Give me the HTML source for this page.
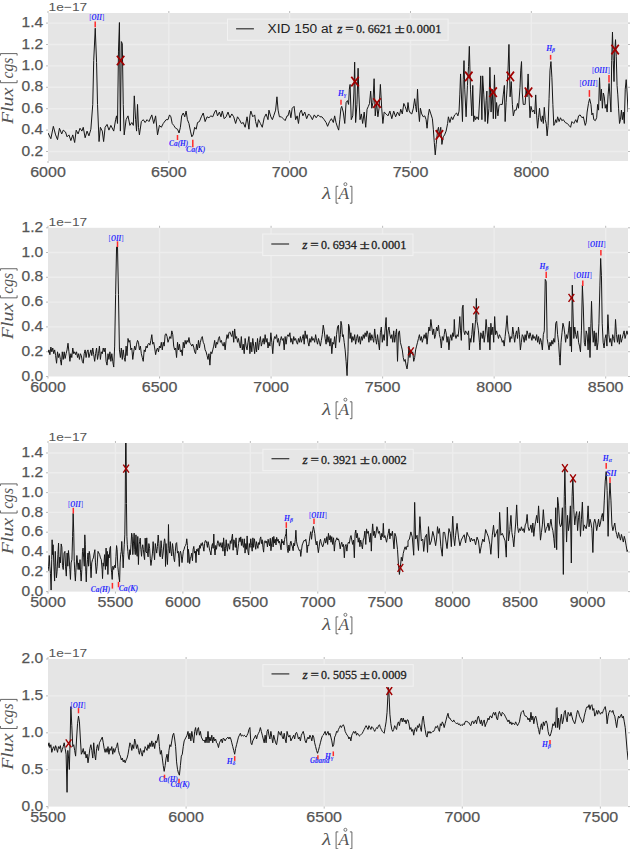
<!DOCTYPE html><html><head><meta charset="utf-8"><title>spectra</title><style>html,body{margin:0;padding:0;background:#fff;}svg{display:block}text{font-family:"Liberation Sans",sans-serif;}.s{font-family:"Liberation Serif",serif;}</style></head><body>
<svg width="630" height="849" viewBox="0 0 630 849">
<rect x="0" y="0" width="630" height="849" fill="#ffffff"/>
<clipPath id="c0"><rect x="48.0" y="13" width="580.0" height="148"/></clipPath>
<rect x="48.0" y="13" width="580.0" height="148" fill="#e5e5e5"/>
<path d="M48.0 151.5H628.0M48.0 130.1H628.0M48.0 108.7H628.0M48.0 87.3H628.0M48.0 65.9H628.0M48.0 44.5H628.0M48.0 23.1H628.0M168.83 13V161M289.67 13V161M410.5 13V161M531.33 13V161" stroke="#ededed" stroke-width="1.4" fill="none"/>
<path d="M46.0 151.5h2M628.0 151.5h2M46.0 130.1h2M628.0 130.1h2M46.0 108.7h2M628.0 108.7h2M46.0 87.3h2M628.0 87.3h2M46.0 65.9h2M628.0 65.9h2M46.0 44.5h2M628.0 44.5h2M46.0 23.1h2M628.0 23.1h2M48 161v2M48 13v-2M168.83 161v2M168.83 13v-2M289.67 161v2M289.67 13v-2M410.5 161v2M410.5 13v-2M531.33 161v2M531.33 13v-2" stroke="#aaaaaa" stroke-width="0.8" fill="none"/>
<text x="21.6" y="155.6" font-size="15.3" fill="#555555" stroke="#555555" stroke-width="0.25" textLength="21.6" lengthAdjust="spacingAndGlyphs">0.2</text>
<text x="21.6" y="134.2" font-size="15.3" fill="#555555" stroke="#555555" stroke-width="0.25" textLength="21.6" lengthAdjust="spacingAndGlyphs">0.4</text>
<text x="21.6" y="112.8" font-size="15.3" fill="#555555" stroke="#555555" stroke-width="0.25" textLength="21.6" lengthAdjust="spacingAndGlyphs">0.6</text>
<text x="21.6" y="91.4" font-size="15.3" fill="#555555" stroke="#555555" stroke-width="0.25" textLength="21.6" lengthAdjust="spacingAndGlyphs">0.8</text>
<text x="21.6" y="70" font-size="15.3" fill="#555555" stroke="#555555" stroke-width="0.25" textLength="21.6" lengthAdjust="spacingAndGlyphs">1.0</text>
<text x="21.6" y="48.6" font-size="15.3" fill="#555555" stroke="#555555" stroke-width="0.25" textLength="21.6" lengthAdjust="spacingAndGlyphs">1.2</text>
<text x="21.6" y="27.2" font-size="15.3" fill="#555555" stroke="#555555" stroke-width="0.25" textLength="21.6" lengthAdjust="spacingAndGlyphs">1.4</text>
<text x="30.2" y="176.6" font-size="15.3" fill="#555555" stroke="#555555" stroke-width="0.25" textLength="35.6" lengthAdjust="spacingAndGlyphs">6000</text>
<text x="151.03" y="176.6" font-size="15.3" fill="#555555" stroke="#555555" stroke-width="0.25" textLength="35.6" lengthAdjust="spacingAndGlyphs">6500</text>
<text x="271.87" y="176.6" font-size="15.3" fill="#555555" stroke="#555555" stroke-width="0.25" textLength="35.6" lengthAdjust="spacingAndGlyphs">7000</text>
<text x="392.7" y="176.6" font-size="15.3" fill="#555555" stroke="#555555" stroke-width="0.25" textLength="35.6" lengthAdjust="spacingAndGlyphs">7500</text>
<text x="513.53" y="176.6" font-size="15.3" fill="#555555" stroke="#555555" stroke-width="0.25" textLength="35.6" lengthAdjust="spacingAndGlyphs">8000</text>
<text x="48.6" y="11.1" font-size="11.8" fill="#555555" textLength="38.6" lengthAdjust="spacingAndGlyphs">1e−17</text>
<g transform="translate(13.2 124) rotate(-90)" fill="#555555"><text class="s" x="0" y="0" font-size="17" font-style="italic" textLength="36.2" lengthAdjust="spacingAndGlyphs">Flux</text><text class="s" x="45.5" y="0" font-size="17" font-style="italic" textLength="20.8" lengthAdjust="spacingAndGlyphs">cgs</text><path d="M43.8 -12.8H41.3V3.9H43.8M68.4 -12.8H70.4V3.9H68.4" fill="none" stroke="#555555" stroke-width="0.9"/></g>
<g fill="#555555"><text class="s" x="322.0" y="199.2" font-size="17" font-style="italic" textLength="9.2" lengthAdjust="spacingAndGlyphs">λ</text><text class="s" x="338.4" y="199.2" font-size="16" font-style="italic" textLength="10.6" lengthAdjust="spacingAndGlyphs">A</text><circle cx="345.4" cy="184.2" r="1.5" fill="none" stroke="#555555" stroke-width="0.8"/><path d="M338.3 186.3H336.1V203.2H338.3M349.9 186.3H351.9V203.2H349.9" fill="none" stroke="#555555" stroke-width="0.9"/></g>
<clipPath id="c1"><rect x="48.0" y="227.8" width="580.0" height="148.7"/></clipPath>
<rect x="48.0" y="227.8" width="580.0" height="148.7" fill="#e5e5e5"/>
<path d="M48.0 351.7H628.0M48.0 326.9H628.0M48.0 302.1H628.0M48.0 277.3H628.0M48.0 252.5H628.0M159.54 227.8V376.5M271.08 227.8V376.5M382.62 227.8V376.5M494.15 227.8V376.5M605.69 227.8V376.5" stroke="#ededed" stroke-width="1.4" fill="none"/>
<path d="M46.0 376.5h2M628.0 376.5h2M46.0 351.7h2M628.0 351.7h2M46.0 326.9h2M628.0 326.9h2M46.0 302.1h2M628.0 302.1h2M46.0 277.3h2M628.0 277.3h2M46.0 252.5h2M628.0 252.5h2M46.0 227.8h2M628.0 227.8h2M48 376.5v2M48 227.8v-2M159.54 376.5v2M159.54 227.8v-2M271.08 376.5v2M271.08 227.8v-2M382.62 376.5v2M382.62 227.8v-2M494.15 376.5v2M494.15 227.8v-2M605.69 376.5v2M605.69 227.8v-2" stroke="#aaaaaa" stroke-width="0.8" fill="none"/>
<text x="21.6" y="380.6" font-size="15.3" fill="#555555" stroke="#555555" stroke-width="0.25" textLength="21.6" lengthAdjust="spacingAndGlyphs">0.0</text>
<text x="21.6" y="355.8" font-size="15.3" fill="#555555" stroke="#555555" stroke-width="0.25" textLength="21.6" lengthAdjust="spacingAndGlyphs">0.2</text>
<text x="21.6" y="331" font-size="15.3" fill="#555555" stroke="#555555" stroke-width="0.25" textLength="21.6" lengthAdjust="spacingAndGlyphs">0.4</text>
<text x="21.6" y="306.2" font-size="15.3" fill="#555555" stroke="#555555" stroke-width="0.25" textLength="21.6" lengthAdjust="spacingAndGlyphs">0.6</text>
<text x="21.6" y="281.4" font-size="15.3" fill="#555555" stroke="#555555" stroke-width="0.25" textLength="21.6" lengthAdjust="spacingAndGlyphs">0.8</text>
<text x="21.6" y="256.6" font-size="15.3" fill="#555555" stroke="#555555" stroke-width="0.25" textLength="21.6" lengthAdjust="spacingAndGlyphs">1.0</text>
<text x="21.6" y="231.9" font-size="15.3" fill="#555555" stroke="#555555" stroke-width="0.25" textLength="21.6" lengthAdjust="spacingAndGlyphs">1.2</text>
<text x="30.2" y="392.1" font-size="15.3" fill="#555555" stroke="#555555" stroke-width="0.25" textLength="35.6" lengthAdjust="spacingAndGlyphs">6000</text>
<text x="141.74" y="392.1" font-size="15.3" fill="#555555" stroke="#555555" stroke-width="0.25" textLength="35.6" lengthAdjust="spacingAndGlyphs">6500</text>
<text x="253.28" y="392.1" font-size="15.3" fill="#555555" stroke="#555555" stroke-width="0.25" textLength="35.6" lengthAdjust="spacingAndGlyphs">7000</text>
<text x="364.82" y="392.1" font-size="15.3" fill="#555555" stroke="#555555" stroke-width="0.25" textLength="35.6" lengthAdjust="spacingAndGlyphs">7500</text>
<text x="476.35" y="392.1" font-size="15.3" fill="#555555" stroke="#555555" stroke-width="0.25" textLength="35.6" lengthAdjust="spacingAndGlyphs">8000</text>
<text x="587.89" y="392.1" font-size="15.3" fill="#555555" stroke="#555555" stroke-width="0.25" textLength="35.6" lengthAdjust="spacingAndGlyphs">8500</text>
<text x="48.6" y="225.9" font-size="11.8" fill="#555555" textLength="38.6" lengthAdjust="spacingAndGlyphs">1e−17</text>
<g transform="translate(13.2 339.15) rotate(-90)" fill="#555555"><text class="s" x="0" y="0" font-size="17" font-style="italic" textLength="36.2" lengthAdjust="spacingAndGlyphs">Flux</text><text class="s" x="45.5" y="0" font-size="17" font-style="italic" textLength="20.8" lengthAdjust="spacingAndGlyphs">cgs</text><path d="M43.8 -12.8H41.3V3.9H43.8M68.4 -12.8H70.4V3.9H68.4" fill="none" stroke="#555555" stroke-width="0.9"/></g>
<g fill="#555555"><text class="s" x="322.0" y="414.7" font-size="17" font-style="italic" textLength="9.2" lengthAdjust="spacingAndGlyphs">λ</text><text class="s" x="338.4" y="414.7" font-size="16" font-style="italic" textLength="10.6" lengthAdjust="spacingAndGlyphs">A</text><circle cx="345.4" cy="399.7" r="1.5" fill="none" stroke="#555555" stroke-width="0.8"/><path d="M338.3 401.8H336.1V418.7H338.3M349.9 401.8H351.9V418.7H349.9" fill="none" stroke="#555555" stroke-width="0.9"/></g>
<clipPath id="c2"><rect x="48.0" y="443" width="580.0" height="148.6"/></clipPath>
<rect x="48.0" y="443" width="580.0" height="148.6" fill="#e5e5e5"/>
<path d="M48.0 571.8H628.0M48.0 552H628.0M48.0 532.2H628.0M48.0 512.4H628.0M48.0 492.6H628.0M48.0 472.8H628.0M48.0 453H628.0M115.44 443V591.6M182.88 443V591.6M250.33 443V591.6M317.77 443V591.6M385.21 443V591.6M452.65 443V591.6M520.09 443V591.6M587.53 443V591.6" stroke="#ededed" stroke-width="1.4" fill="none"/>
<path d="M46.0 591.6h2M628.0 591.6h2M46.0 571.8h2M628.0 571.8h2M46.0 552h2M628.0 552h2M46.0 532.2h2M628.0 532.2h2M46.0 512.4h2M628.0 512.4h2M46.0 492.6h2M628.0 492.6h2M46.0 472.8h2M628.0 472.8h2M46.0 453h2M628.0 453h2M48 591.6v2M48 443v-2M115.44 591.6v2M115.44 443v-2M182.88 591.6v2M182.88 443v-2M250.33 591.6v2M250.33 443v-2M317.77 591.6v2M317.77 443v-2M385.21 591.6v2M385.21 443v-2M452.65 591.6v2M452.65 443v-2M520.09 591.6v2M520.09 443v-2M587.53 591.6v2M587.53 443v-2" stroke="#aaaaaa" stroke-width="0.8" fill="none"/>
<text x="21.6" y="595.7" font-size="15.3" fill="#555555" stroke="#555555" stroke-width="0.25" textLength="21.6" lengthAdjust="spacingAndGlyphs">0.0</text>
<text x="21.6" y="575.9" font-size="15.3" fill="#555555" stroke="#555555" stroke-width="0.25" textLength="21.6" lengthAdjust="spacingAndGlyphs">0.2</text>
<text x="21.6" y="556.1" font-size="15.3" fill="#555555" stroke="#555555" stroke-width="0.25" textLength="21.6" lengthAdjust="spacingAndGlyphs">0.4</text>
<text x="21.6" y="536.3" font-size="15.3" fill="#555555" stroke="#555555" stroke-width="0.25" textLength="21.6" lengthAdjust="spacingAndGlyphs">0.6</text>
<text x="21.6" y="516.5" font-size="15.3" fill="#555555" stroke="#555555" stroke-width="0.25" textLength="21.6" lengthAdjust="spacingAndGlyphs">0.8</text>
<text x="21.6" y="496.7" font-size="15.3" fill="#555555" stroke="#555555" stroke-width="0.25" textLength="21.6" lengthAdjust="spacingAndGlyphs">1.0</text>
<text x="21.6" y="476.9" font-size="15.3" fill="#555555" stroke="#555555" stroke-width="0.25" textLength="21.6" lengthAdjust="spacingAndGlyphs">1.2</text>
<text x="21.6" y="457.1" font-size="15.3" fill="#555555" stroke="#555555" stroke-width="0.25" textLength="21.6" lengthAdjust="spacingAndGlyphs">1.4</text>
<text x="30.2" y="607.2" font-size="15.3" fill="#555555" stroke="#555555" stroke-width="0.25" textLength="35.6" lengthAdjust="spacingAndGlyphs">5000</text>
<text x="97.64" y="607.2" font-size="15.3" fill="#555555" stroke="#555555" stroke-width="0.25" textLength="35.6" lengthAdjust="spacingAndGlyphs">5500</text>
<text x="165.08" y="607.2" font-size="15.3" fill="#555555" stroke="#555555" stroke-width="0.25" textLength="35.6" lengthAdjust="spacingAndGlyphs">6000</text>
<text x="232.53" y="607.2" font-size="15.3" fill="#555555" stroke="#555555" stroke-width="0.25" textLength="35.6" lengthAdjust="spacingAndGlyphs">6500</text>
<text x="299.97" y="607.2" font-size="15.3" fill="#555555" stroke="#555555" stroke-width="0.25" textLength="35.6" lengthAdjust="spacingAndGlyphs">7000</text>
<text x="367.41" y="607.2" font-size="15.3" fill="#555555" stroke="#555555" stroke-width="0.25" textLength="35.6" lengthAdjust="spacingAndGlyphs">7500</text>
<text x="434.85" y="607.2" font-size="15.3" fill="#555555" stroke="#555555" stroke-width="0.25" textLength="35.6" lengthAdjust="spacingAndGlyphs">8000</text>
<text x="502.29" y="607.2" font-size="15.3" fill="#555555" stroke="#555555" stroke-width="0.25" textLength="35.6" lengthAdjust="spacingAndGlyphs">8500</text>
<text x="569.73" y="607.2" font-size="15.3" fill="#555555" stroke="#555555" stroke-width="0.25" textLength="35.6" lengthAdjust="spacingAndGlyphs">9000</text>
<text x="48.6" y="441.1" font-size="11.8" fill="#555555" textLength="38.6" lengthAdjust="spacingAndGlyphs">1e−17</text>
<g transform="translate(13.2 554.3) rotate(-90)" fill="#555555"><text class="s" x="0" y="0" font-size="17" font-style="italic" textLength="36.2" lengthAdjust="spacingAndGlyphs">Flux</text><text class="s" x="45.5" y="0" font-size="17" font-style="italic" textLength="20.8" lengthAdjust="spacingAndGlyphs">cgs</text><path d="M43.8 -12.8H41.3V3.9H43.8M68.4 -12.8H70.4V3.9H68.4" fill="none" stroke="#555555" stroke-width="0.9"/></g>
<g fill="#555555"><text class="s" x="322.0" y="629.8" font-size="17" font-style="italic" textLength="9.2" lengthAdjust="spacingAndGlyphs">λ</text><text class="s" x="338.4" y="629.8" font-size="16" font-style="italic" textLength="10.6" lengthAdjust="spacingAndGlyphs">A</text><circle cx="345.4" cy="614.8" r="1.5" fill="none" stroke="#555555" stroke-width="0.8"/><path d="M338.3 616.9H336.1V633.8H338.3M349.9 616.9H351.9V633.8H349.9" fill="none" stroke="#555555" stroke-width="0.9"/></g>
<clipPath id="c3"><rect x="48.0" y="659" width="580.0" height="147.6"/></clipPath>
<rect x="48.0" y="659" width="580.0" height="147.6" fill="#e5e5e5"/>
<path d="M48.0 769.7H628.0M48.0 732.8H628.0M48.0 695.9H628.0M186.1 659V806.6M324.19 659V806.6M462.29 659V806.6M600.38 659V806.6" stroke="#ededed" stroke-width="1.4" fill="none"/>
<path d="M46.0 806.6h2M628.0 806.6h2M46.0 769.7h2M628.0 769.7h2M46.0 732.8h2M628.0 732.8h2M46.0 695.9h2M628.0 695.9h2M46.0 659h2M628.0 659h2M48 806.6v2M48 659v-2M186.1 806.6v2M186.1 659v-2M324.19 806.6v2M324.19 659v-2M462.29 806.6v2M462.29 659v-2M600.38 806.6v2M600.38 659v-2" stroke="#aaaaaa" stroke-width="0.8" fill="none"/>
<text x="21.6" y="810.7" font-size="15.3" fill="#555555" stroke="#555555" stroke-width="0.25" textLength="21.6" lengthAdjust="spacingAndGlyphs">0.0</text>
<text x="21.6" y="773.8" font-size="15.3" fill="#555555" stroke="#555555" stroke-width="0.25" textLength="21.6" lengthAdjust="spacingAndGlyphs">0.5</text>
<text x="21.6" y="736.9" font-size="15.3" fill="#555555" stroke="#555555" stroke-width="0.25" textLength="21.6" lengthAdjust="spacingAndGlyphs">1.0</text>
<text x="21.6" y="700" font-size="15.3" fill="#555555" stroke="#555555" stroke-width="0.25" textLength="21.6" lengthAdjust="spacingAndGlyphs">1.5</text>
<text x="21.6" y="663.1" font-size="15.3" fill="#555555" stroke="#555555" stroke-width="0.25" textLength="21.6" lengthAdjust="spacingAndGlyphs">2.0</text>
<text x="30.2" y="822.2" font-size="15.3" fill="#555555" stroke="#555555" stroke-width="0.25" textLength="35.6" lengthAdjust="spacingAndGlyphs">5500</text>
<text x="168.3" y="822.2" font-size="15.3" fill="#555555" stroke="#555555" stroke-width="0.25" textLength="35.6" lengthAdjust="spacingAndGlyphs">6000</text>
<text x="306.39" y="822.2" font-size="15.3" fill="#555555" stroke="#555555" stroke-width="0.25" textLength="35.6" lengthAdjust="spacingAndGlyphs">6500</text>
<text x="444.49" y="822.2" font-size="15.3" fill="#555555" stroke="#555555" stroke-width="0.25" textLength="35.6" lengthAdjust="spacingAndGlyphs">7000</text>
<text x="582.58" y="822.2" font-size="15.3" fill="#555555" stroke="#555555" stroke-width="0.25" textLength="35.6" lengthAdjust="spacingAndGlyphs">7500</text>
<text x="48.6" y="657.1" font-size="11.8" fill="#555555" textLength="38.6" lengthAdjust="spacingAndGlyphs">1e−17</text>
<g transform="translate(13.2 769.8) rotate(-90)" fill="#555555"><text class="s" x="0" y="0" font-size="17" font-style="italic" textLength="36.2" lengthAdjust="spacingAndGlyphs">Flux</text><text class="s" x="45.5" y="0" font-size="17" font-style="italic" textLength="20.8" lengthAdjust="spacingAndGlyphs">cgs</text><path d="M43.8 -12.8H41.3V3.9H43.8M68.4 -12.8H70.4V3.9H68.4" fill="none" stroke="#555555" stroke-width="0.9"/></g>
<g fill="#555555"><text class="s" x="322.0" y="844.8" font-size="17" font-style="italic" textLength="9.2" lengthAdjust="spacingAndGlyphs">λ</text><text class="s" x="338.4" y="844.8" font-size="16" font-style="italic" textLength="10.6" lengthAdjust="spacingAndGlyphs">A</text><circle cx="345.4" cy="829.8" r="1.5" fill="none" stroke="#555555" stroke-width="0.8"/><path d="M338.3 831.9H336.1V848.8H338.3M349.9 831.9H351.9V848.8H349.9" fill="none" stroke="#555555" stroke-width="0.9"/></g>
<path d="M48 133 L50.86 138.71 L53.33 126.33 L55.62 134.9 L57.52 139.67 L59.43 128.24 L61.71 133.95 L63.24 130.14 L65.52 132.05 L67.05 136.81 L68.95 134.9 L70.86 140.62 L72.76 134.9 L74.67 142.52 L76.19 130.14 L78.1 133.95 L80 128.24 L81.9 131.1 L83.24 127.29 L85.14 137.76 L87.05 131.1 L88.95 135.86 L90.86 129.19 L92.76 104.43 L93.71 60.62 L95.24 28.24 L96.57 62.52 L97.52 104.43 L99.05 141.57 L100.38 127.29 L102.29 131.1 L103.62 141.57 L105.14 127.29 L107.05 124.43 L108.95 130.14 L110.86 125.38 L113.71 131.1 L115.62 119.67 L116.57 115.86 L117.52 123.48 L118.48 51.1 L119.43 22.52 L120.38 131.1 L121.33 41.57 L122.29 43.48 L123.24 104.43 L124.19 134.9 L126.1 119.67 L128 115.86 L129.9 125.38 L131.81 122.52 L133.33 125.38 L134.29 95.86 L135.62 119.67 L136.57 131.1 L137.52 104.43 L138.48 127.29 L139.43 134.9 L141.33 121.57 L143.24 119.67 L145.14 122.52 L147.05 119.67 L148.95 121.57 L151.81 114.9 L153.71 123.48 L155.62 115.86 L157.52 134.9 L159.43 125.38 L161.33 127.29 L163.24 123.48 L166.1 119.67 L168 119.67 L169.52 114.9 L170.86 116.81 L172.19 123.48 L173.71 125.38 L175.62 128.24 L177.52 129.19 L179.05 133 L180.38 127.29 L181.71 115.86 L183.24 113 L184.76 116.81 L186.1 111.1 L187.43 119.67 L188.95 123.48 L190.48 131.1 L191.81 136.81 L193.14 134.9 L194.67 127.29 L196.19 129.19 L197.52 122.52 L199.43 121.57 L201.33 116.81 L203.24 113 L205.14 121.57 L207.05 116.81 L208.95 117.76 L210.86 115.86 L212.76 116.81 L214.67 112.05 L216 110.14 L217.52 115.86 L219.43 112.05 L220.95 116.81 L222.29 111.1 L224.19 118.71 L226.1 116.81 L228 112.05 L229.9 117.76 L231.81 113.95 L233.71 116.81 L235.62 123.48 L237.52 116.81 L239.43 119.67 L241.33 123.48 L243.24 122.52 L245.14 127.29 L247.05 116.81 L248.95 129.19 L249.9 115.86 L250.86 111.1 L252.76 116.81 L254.67 114.9 L255.62 121.57 L257.14 127.29 L258.48 119.67 L260.38 123.48 L262.29 127.29 L264.19 117.76 L266.1 113.95 L268 119.67 L268.95 110.14 L270.86 116.81 L272.38 119.67 L273.71 115.86 L275.62 110.14 L276.95 96.81 L278.1 110.14 L279.43 116.81 L281.33 116.81 L283.24 118.71 L285.14 120.62 L287.05 115.86 L288 115.86 L289.52 110.14 L290.86 117.76 L292.19 108.24 L294.1 106.33 L295.62 119.67 L297.14 115.86 L298.48 123.48 L299.81 113 L301.33 110.14 L302.86 115.86 L304.76 112.05 L306.67 118.71 L308.57 113.95 L310.48 115.86 L312.38 119.67 L314.29 114.9 L316.19 117.76 L318.1 114.9 L320 116.81 L321.9 116.81 L324.19 119.67 L326.1 122.52 L327.62 126.33 L329.52 121.57 L331.43 118.71 L333.33 122.52 L334.67 115.86 L336 122.52 L337.52 127.29 L338.67 130.14 L339.81 119.67 L340.95 108.24 L341.71 106.33 L343.24 112.05 L344.76 123.48 L346.1 102.52 L347.43 100.62 L348.57 104.43 L349.33 89.19 L350.1 84.43 L351.24 119.67 L352.76 115.86 L353.9 93 L354.67 62.14 L355.62 122.52 L356.95 104.43 L358.1 68.24 L358.86 94.9 L360 119.67 L361.33 113.95 L362.67 123.48 L364.19 112.05 L365.71 127.29 L367.05 109.19 L368.38 106.33 L369.52 103.48 L370.67 91.1 L371.81 108.24 L372.95 102.52 L374.1 78.71 L375.24 115.86 L376.57 102.52 L377.9 116.81 L379.05 108.24 L380.38 84.43 L381.71 108.24 L382.86 123.48 L384.19 112.05 L386.1 113.95 L388 115.86 L389.9 111.1 L391.81 118.71 L393.71 111.1 L395.62 116.81 L397.52 112.05 L399.43 115.86 L400.76 109.19 L402.29 113.95 L403.81 103.48 L405.14 106.33 L407.05 112.05 L408 102.52 L408.95 110.14 L410.29 113 L411.81 113.95 L413.33 108.24 L414.67 98.71 L415.62 106.33 L416.57 112.05 L417.52 89.19 L418.48 110.14 L419.43 121.57 L420.38 108.24 L421.71 113.95 L423.24 116.81 L424.76 115.86 L426.1 119.67 L427.05 128.24 L428.19 115.86 L429.33 109.19 L430.86 113.95 L432.38 118.71 L433.33 129.19 L434.29 142.52 L435.24 154.9 L436.19 144.43 L437.52 131.1 L438.48 127.29 L439.43 134.9 L440.76 127.29 L441.9 144.43 L443.24 136.81 L444.57 134.9 L446.1 131.1 L447.62 123.48 L448.38 116.81 L449.9 122.52 L451.43 116.81 L452.76 119.67 L454.67 114.9 L456.57 113 L457.9 115.86 L459.05 111.1 L459.81 94.9 L460.57 73.95 L461.33 93 L462.48 121.57 L463.24 79.67 L464 60.62 L464.76 89.19 L466.1 116.81 L467.43 85.38 L468.57 66.33 L469.33 46.33 L470.48 89.19 L471.81 115.86 L472.76 85.38 L473.71 121.57 L474.67 115.86 L475.62 119.67 L476.95 116.81 L478.48 119.67 L480 93 L480.76 75.86 L481.9 119.67 L482.67 75.86 L483.81 94.9 L485.14 121.57 L486.1 100.62 L486.86 91.1 L487.62 123.48 L488.95 108.24 L489.9 67.29 L491.05 112.05 L492.19 89.19 L493.33 118.71 L494.48 74.9 L495.62 118.71 L496.57 102.52 L497.9 115.86 L499.05 105.38 L500.38 104.43 L502.29 104.43 L503.24 94.9 L504.38 85.38 L505.14 121.57 L506.1 102.52 L507.05 89.19 L508 70.14 L508.95 44.43 L510.1 96.81 L511.24 81.57 L512.38 104.43 L513.33 115.86 L514.67 110.14 L516.19 110.14 L517.52 103.48 L518.48 108.24 L520 87.29 L520.76 70.14 L521.52 61.57 L522.29 93 L523.24 104.43 L524.19 104.43 L525.14 104.43 L526.1 89.19 L527.05 96.81 L528.1 73.95 L529.05 96.81 L530 117.76 L530.95 106.33 L532.48 112.05 L533.81 110.14 L534.76 113.95 L535.71 94.9 L536.67 115.86 L537.62 128.24 L538.57 117.76 L539.52 108.24 L540.48 118.71 L541.43 121.57 L542.38 115.86 L543.33 123.48 L544.29 107.29 L545.24 119.67 L546.19 123.48 L547.14 135.86 L548.1 125.38 L549.05 98.71 L550 70.14 L550.95 61.57 L551.9 77.76 L552.86 104.43 L553.81 125.38 L554.76 123.48 L555.71 119.67 L556.67 122.52 L557.62 116.81 L559.14 121.57 L560.48 117.76 L561.81 120.62 L563.33 119.67 L565.24 122.52 L567.14 123.48 L569.05 125.38 L570.57 127.29 L571.9 121.57 L573.81 123.48 L575.71 119.67 L577.05 122.52 L578.57 115.86 L580.1 114.9 L582 117.76 L583.33 116.81 L585.24 125.38 L586.19 122.52 L587.14 112.05 L588.48 103.48 L589.62 98.71 L590.95 104.43 L591.9 114.9 L592.86 113 L593.81 119.67 L595.33 120.62 L596.67 117.76 L597.62 104.43 L598.57 110.14 L599.52 77.76 L600.48 100.62 L601.43 89.19 L602.38 108.24 L603.33 93 L604.29 96.81 L605.24 108.24 L606.19 104.43 L607.14 112.05 L608.1 94.9 L609.05 83.48 L610 96.81 L610.95 112.05 L611.71 60.62 L612.48 32.05 L613.24 60.62 L614 81.57 L614.76 51.1 L615.52 39.67 L616.29 56.81 L617.05 85.38 L617.81 94.9 L618.57 108.24 L619.52 123.48 L620.48 119.67 L621.43 110.14 L622.38 119.67 L623.33 112.05 L624.29 123.48 L625.24 89.19 L626.19 79.67 L627.14 93 L628.1 112.05" fill="none" stroke="#161616" stroke-width="1.0" stroke-linejoin="round" clip-path="url(#c0)"/>
<path d="M48 352.76 L48.95 349.9 L49.9 354.67 L50.86 347.05 L51.81 351.81 L52.76 348 L53.71 353.71 L54.67 349.9 L55.62 355.62 L56.57 363.24 L57.52 351.81 L58.48 357.52 L59.43 353.71 L60.38 359.43 L61.33 365.14 L62.29 351.81 L63.24 359.43 L64.19 351.81 L65.14 358.48 L66.1 353.71 L67.05 349.9 L68 343.24 L68.95 351.81 L69.9 361.33 L70.86 353.71 L71.81 357.52 L72.76 348 L73.71 353.71 L74.67 351.81 L75.62 354.67 L76.57 351.81 L77.52 357.52 L78.48 353.71 L79.43 359.43 L80.38 353.71 L81.33 355.62 L82.29 361.33 L83.24 363.24 L84.19 353.71 L85.14 349.9 L86.1 357.52 L87.05 351.81 L88 349.9 L88.95 357.52 L89.9 353.71 L90.86 349.9 L91.81 355.62 L92.76 348 L93.71 354.67 L94.67 361.33 L95.62 353.71 L96.57 348 L97.52 359.43 L98.48 353.71 L99.43 346.1 L100.38 359.43 L101.33 351.81 L102.29 353.71 L103.24 348 L104.19 351.81 L105.14 348 L106.1 361.33 L107.05 365.14 L108 353.71 L108.95 359.43 L109.9 351.81 L110.86 361.33 L111.81 353.71 L112.76 361.33 L113.71 367.05 L114.67 346.1 L115.62 294.67 L116.57 247.05 L117.52 247.05 L118.48 294.67 L119.43 349.9 L120.38 357.52 L121.33 348 L122.29 359.43 L123.24 349.9 L124.19 357.52 L125.14 361.33 L126.1 346.1 L127.05 355.62 L128 338.48 L128.95 342.29 L129.9 340.38 L130.86 349.9 L131.81 348 L132.76 359.43 L133.71 351.81 L134.67 346.1 L135.62 349.9 L136.57 344.19 L137.52 340.38 L138.48 342.29 L139.43 349.9 L140.38 346.1 L141.33 353.71 L142.29 357.52 L143.24 361.33 L144.19 349.9 L145.14 351.81 L146.1 346.1 L147.05 348 L148 344.19 L148.95 343.24 L149.9 345.14 L150.86 340.38 L151.81 334.67 L152.76 344.19 L153.71 342.29 L154.67 348 L155.62 354.67 L156.57 349.9 L157.52 348 L158.48 351.81 L159.43 346.1 L160.38 348 L161.33 342.29 L162.29 349.9 L163.24 342.29 L164.19 346.1 L165.14 334.67 L166.1 333.71 L167.05 336.57 L168 342.29 L168.95 339.43 L169.9 336.57 L170.86 338.48 L171.81 330.86 L172.76 334.67 L173.71 346.1 L174.67 349.9 L175.62 348 L176.57 357.52 L177.52 342.29 L178.48 349.9 L179.43 344.19 L180.38 351.81 L181.33 349.9 L182.29 355.62 L183.24 342.29 L184.19 348 L185.14 340.38 L186.1 344.19 L187.05 340.38 L188 342.29 L188.95 337.52 L189.9 343.24 L190.86 344.19 L191.81 346.1 L192.76 344.19 L193.71 347.05 L194.67 351.81 L195.62 353.71 L196.57 344.19 L197.52 349.9 L198.48 340.38 L199.43 348 L200.38 342.29 L201.33 338.48 L202.29 336.57 L203.24 342.29 L204.19 344.19 L205.14 349.9 L206.1 351.81 L207.05 355.62 L208 359.43 L208.95 353.71 L209.9 365.14 L210.86 351.81 L211.81 353.71 L212.76 349.9 L213.71 346.1 L214.67 340.38 L215.62 348 L216.57 342.29 L217.52 344.19 L218.48 338.48 L219.43 336.57 L220.38 342.29 L221.33 340.38 L222.29 344.19 L223.24 346.1 L224.19 342.29 L225.14 349.9 L226.1 340.38 L227.05 334.67 L228 338.48 L228.95 332.76 L229.9 331.81 L230.86 334.67 L231.81 336.57 L232.76 330.86 L233.71 342.29 L234.67 328.95 L235.62 338.48 L236.57 336.57 L237.52 342.29 L238.48 338.48 L239.43 344.19 L240.38 348 L241.33 336.57 L242.29 349.9 L243.24 344.19 L244.19 353.71 L245.14 338.48 L246.1 346.1 L247.05 349.9 L248 342.29 L248.95 336.57 L249.9 353.71 L250.86 342.29 L251.81 351.81 L252.76 338.48 L253.71 346.1 L254.67 353.71 L255.62 342.29 L256.57 351.81 L257.52 338.48 L258.48 349.9 L259.43 342.29 L260.38 336.57 L261.33 346.1 L262.29 342.29 L263.24 338.48 L264.19 344.19 L265.14 334.67 L266.1 342.29 L267.05 338.48 L268 348 L268.95 342.29 L269.9 346.1 L270.86 332.76 L271.81 342.29 L272.76 353.71 L273.71 340.38 L274.67 336.57 L275.62 338.48 L276.57 334.67 L277.52 342.29 L278.48 338.48 L279.43 346.1 L280.38 340.38 L281.33 336.57 L282.29 340.38 L283.24 338.48 L284.19 349.9 L285.14 336.57 L286.1 344.19 L287.05 336.57 L288 334.67 L288.95 336.57 L289.9 332.76 L290.86 342.29 L291.81 338.48 L292.76 344.19 L293.71 336.57 L294.67 340.38 L295.62 338.48 L296.57 342.29 L297.52 344.19 L298.48 338.48 L299.43 342.29 L300.38 336.57 L301.33 342.29 L302.29 338.48 L303.24 334.67 L304.19 344.19 L305.14 330.86 L306.1 338.48 L307.05 334.67 L308 342.29 L308.95 346.1 L309.9 338.48 L310.86 342.29 L311.81 336.57 L312.76 340.38 L313.71 338.48 L314.67 342.29 L315.62 334.67 L316.57 340.38 L317.52 344.19 L318.48 338.48 L319.43 342.29 L320.38 346.1 L321.33 340.38 L322.29 334.67 L323.24 325.14 L324.19 330.86 L325.14 338.48 L326.1 344.19 L327.05 334.67 L328 342.29 L328.95 336.57 L329.9 346.1 L330.86 338.48 L331.81 353.71 L332.76 342.29 L333.71 344.19 L334.67 336.57 L335.62 348 L336.57 334.67 L337.52 327.05 L338.48 325.14 L339.43 342.29 L340.38 334.67 L340.95 321.33 L341.71 325.14 L342.48 336.57 L343.24 334.67 L344.19 342.29 L345.14 349.9 L346.1 361.33 L347.05 375.62 L348 351.81 L348.57 324.19 L349.33 327.05 L350.1 338.48 L350.86 332.76 L351.81 342.29 L352.76 336.57 L353.71 340.38 L354.67 334.67 L355.62 344.19 L356.57 338.48 L357.52 334.67 L358.48 342.29 L359.43 336.57 L360.38 344.19 L361.33 336.57 L362.29 340.38 L363.24 334.67 L364.19 338.48 L365.14 332.76 L366.1 336.57 L367.05 330.86 L368 334.67 L368.95 342.29 L369.9 332.76 L370.86 340.38 L371.81 334.67 L372.76 338.48 L373.71 342.29 L374.67 328.95 L375.62 338.48 L376.57 344.19 L377.52 334.67 L378.48 342.29 L379.43 349.9 L380.38 332.76 L381.33 327.05 L382.29 342.29 L383.24 334.67 L384.19 340.38 L385.14 328.95 L386.1 317.52 L387.05 346.1 L388 330.86 L388.95 327.05 L389.9 334.67 L390.86 338.48 L391.81 334.67 L392.76 342.29 L393.71 330.86 L394.67 342.29 L395.62 334.67 L396.57 328.95 L397.52 361.33 L398.48 332.76 L399.43 330.86 L400.38 342.29 L401.33 346.1 L402.29 349.9 L403.24 357.52 L404.19 361.33 L405.14 359.43 L406.1 365.14 L407.05 368.95 L408 361.33 L408.95 346.1 L409.9 357.52 L410.86 349.9 L411.81 353.71 L412.76 351.81 L413.71 361.33 L414.67 357.52 L415.62 349.9 L416.57 346.1 L417.52 342.29 L418.48 338.48 L419.43 334.67 L420.38 340.38 L421.33 336.57 L422.29 342.29 L423.24 338.48 L424.19 334.67 L425.14 338.48 L426.1 332.76 L427.05 344.19 L428 334.67 L428.95 327.05 L429.9 330.86 L430.86 319.43 L431.81 327.05 L432.76 334.67 L433.71 328.95 L434.67 338.48 L435.62 334.67 L436.57 327.05 L437.52 330.86 L438.48 325.14 L439.43 334.67 L440.38 338.48 L441.33 348 L442.29 336.57 L443.24 340.38 L444.19 334.67 L445.14 328.95 L446.1 332.76 L447.05 342.29 L448 336.57 L448.95 349.9 L449.9 338.48 L450.86 334.67 L451.81 340.38 L452.76 332.76 L453.71 336.57 L454.29 319.43 L455.05 334.67 L456 338.48 L457.14 334.67 L458.1 336.57 L459.05 327.05 L459.81 316.57 L460.57 330.86 L461.33 340.38 L462.29 308 L463.05 305.14 L463.81 330.86 L464.76 334.67 L465.52 330.86 L466.67 332.76 L467.62 334.67 L468.57 330.86 L469.33 349.9 L470.1 338.48 L470.86 342.29 L471.81 334.67 L472.76 323.24 L473.71 342.29 L474.67 330.86 L475.62 319.43 L476.38 298.48 L476.95 321.33 L477.71 325.14 L478.48 330.86 L479.43 342.29 L480 349.9 L480.76 332.76 L481.52 334.67 L482.29 338.48 L483.24 330.86 L484.19 342.29 L485.14 334.67 L486.1 319.43 L487.05 330.86 L488 342.29 L488.95 327.05 L489.9 349.9 L490.86 323.24 L491.81 334.67 L492.76 327.05 L493.71 342.29 L494.67 316.57 L495.62 334.67 L496.57 330.86 L497.52 334.67 L498.48 338.48 L499.43 334.67 L500.38 336.57 L501.33 338.48 L502.29 342.29 L503.24 340.38 L504.19 346.1 L505.14 336.57 L506.1 327.05 L507.05 315.62 L508 330.86 L508.95 334.67 L509.9 342.29 L510.86 336.57 L511.81 338.48 L512.76 327.05 L513.71 334.67 L514.67 342.29 L515.62 334.67 L516.57 330.86 L517.52 338.48 L518.48 327.05 L519.43 334.67 L520.38 349.9 L521.33 342.29 L522.29 334.67 L523.24 336.57 L524.19 342.29 L525.14 334.67 L526.1 340.38 L527.05 330.86 L528.1 334.67 L529.05 338.48 L530 332.76 L530.95 336.57 L531.9 340.38 L532.86 334.67 L533.81 338.48 L534.76 336.57 L535.71 340.38 L536.67 334.67 L537.62 342.29 L538.57 336.57 L539.52 344.19 L540.48 338.48 L541.43 342.29 L542.38 349.9 L543.33 334.67 L544.29 330.86 L545.24 279.43 L546.19 281.33 L547.14 338.48 L548.1 344.19 L549.05 349.9 L550 342.29 L550.95 346.1 L551.9 340.38 L552.86 344.19 L553.81 338.48 L554.76 342.29 L555.71 323.24 L556.67 321.33 L557.62 334.67 L558.57 342.29 L559.52 357.52 L560.1 365.14 L561.05 342.29 L562 332.76 L562.95 323.24 L563.9 327.05 L564.86 334.67 L565.62 342.29 L566.57 334.67 L567.52 338.48 L568.48 330.86 L569.43 321.33 L570.19 346.1 L570.95 327.05 L571.52 351.81 L572.29 285.14 L572.86 308 L573.81 338.48 L574.76 327.05 L575.71 334.67 L576.67 338.48 L577.62 330.86 L578.57 342.29 L579.52 346.1 L580.48 351.81 L581.43 330.86 L582.38 285.14 L583.33 308 L584.29 342.29 L585.24 346.1 L586.19 330.86 L587.14 334.67 L588.1 349.9 L589.05 327.05 L590 357.52 L590.95 323.24 L591.52 301.33 L592.29 327.05 L593.24 342.29 L594.19 330.86 L595.14 346.1 L596.1 332.76 L597.05 349.9 L598 342.29 L598.95 323.24 L599.9 285.14 L600.67 258.48 L601.43 275.62 L602.19 323.24 L603.14 342.29 L604.1 348 L605.05 338.48 L606 334.67 L606.95 346.1 L607.9 314.67 L608.86 334.67 L609.81 342.29 L610.76 338.48 L611.71 346.1 L612.67 334.67 L613.62 338.48 L614.57 342.29 L615.52 319.43 L616.48 334.67 L617.43 342.29 L618.38 334.67 L619.33 344.19 L620.29 334.67 L621.24 342.29 L622.19 338.48 L623.14 334.67 L624.1 330.86 L625.05 338.48 L626 334.67 L626.95 330.86 L627.9 334.67" fill="none" stroke="#161616" stroke-width="1.0" stroke-linejoin="round" clip-path="url(#c1)"/>
<path d="M48 571.16 L48.66 566.2 L49.24 555.48 L49.82 566.2 L50.48 573.63 L51.14 590.05 L51.71 559.6 L52.13 539.8 L52.54 554.65 L53.12 544.75 L53.78 562.9 L54.6 581.06 L55.26 551.35 L55.84 566.2 L56.42 577.76 L57.08 571.16 L57.9 554.65 L58.56 543.1 L59.14 567.85 L59.72 557.13 L60.38 562.9 L61.2 543.93 L61.86 547.23 L62.44 565.38 L63.26 569.5 L64.09 553 L64.91 551.35 L65.49 566.2 L66.32 576.11 L67.14 553 L67.8 566.2 L68.46 550.53 L69.12 557.95 L69.86 569.5 L70.44 579.41 L71.1 562.9 L71.93 559.6 L72.59 536.5 L73.17 513.4 L73.74 532.38 L74.24 561.25 L74.82 572.81 L75.39 581.06 L76.05 567.85 L76.88 555.48 L77.54 562.9 L78.12 569.5 L78.69 562.9 L79.35 569.5 L80.01 559.6 L80.59 572.81 L81.17 581.06 L81.83 569.5 L82.49 551.35 L83.07 548.05 L83.64 557.13 L84.3 566.2 L84.8 534.85 L85.29 544.75 L85.79 571.16 L86.28 581.88 L86.78 567.85 L87.44 559.6 L88.02 553 L88.59 566.2 L89.25 551.35 L89.91 555.48 L90.49 566.2 L91.07 577.76 L91.73 562.9 L92.55 559.6 L93.38 557.95 L94.2 553 L94.86 549.7 L95.44 562.9 L96.27 573.63 L97.09 566.2 L98 551.35 L98.83 553 L99.65 554.65 L100.48 557.95 L101.3 559.6 L102.13 569.5 L102.54 578.58 L103.12 562.9 L103.78 566.2 L104.6 554.65 L105.43 569.5 L106.09 548.05 L106.66 566.2 L107.24 551.35 L107.9 574.46 L108.56 554.65 L109.14 557.95 L109.96 548.05 L110.54 546.4 L111.04 566.2 L111.61 572.81 L112.19 579.41 L112.85 566.2 L113.68 569.5 L114.5 565.38 L115.33 567.85 L115.99 556.3 L116.56 545.58 L117.14 549.7 L117.8 566.2 L118.46 572.81 L119.04 577.76 L119.62 581.88 L120.11 562.9 L120.69 554.65 L121.27 551.35 L121.76 541.45 L122.34 553 L122.75 557.95 L123.17 567.85 L123.74 554.65 L124.24 544.75 L124.82 534.85 L125.23 503.5 L125.64 439.14 L126.05 439.14 L126.47 503.5 L126.88 536.5 L127.29 544.75 L127.87 551.35 L128.53 557.95 L129.19 559.6 L129.77 549.7 L130.34 554.65 L131 544.75 L131.66 533.2 L132.24 536.5 L132.82 554.65 L133.48 543.1 L134.14 533.2 L134.72 549.7 L135.29 554.65 L135.95 534.85 L136.61 553 L137.19 556.3 L137.77 536.5 L138.43 564.55 L139.09 544.75 L139.67 541.45 L140.24 538.15 L140.9 549.7 L141.56 556.3 L142.14 548.05 L142.72 544.75 L143.38 549.7 L144.04 556.3 L144.62 559.6 L145.19 538.15 L145.85 551.35 L146.68 553 L146 551.19 L146.76 537.86 L147.43 553.1 L148.1 556.9 L148.86 543.57 L149.62 548.33 L150.29 558.81 L150.95 565.48 L151.71 559.76 L152.48 553.1 L153.14 541.67 L153.81 551.19 L154.57 559.76 L155.33 543.57 L156 548.33 L156.67 553.1 L157.43 546.43 L158.19 535 L158.86 543.57 L159.52 555 L160.29 556.9 L161.05 540.71 L161.71 548.33 L162.38 558.81 L163.14 553.1 L163.9 543.57 L164.57 538.81 L165.05 541.67 L165.52 566.43 L166 543.57 L166.76 555.95 L167.43 564.52 L168.1 548.33 L168.48 524.52 L168.86 545.48 L169.62 553.1 L170.29 541.67 L170.95 551.19 L171.71 555.95 L172.48 543.57 L173.14 548.33 L173.81 557.86 L174.57 561.67 L175.33 551.19 L176 543.57 L176.67 542.62 L177.43 553.1 L178.19 551.19 L178.86 558.81 L179.33 566.43 L179.9 553.1 L180.48 551.19 L181.24 555 L182 562.62 L182.67 556.9 L183.33 551.19 L184.1 549.29 L184.86 546.43 L185.52 545.48 L186.19 543.57 L186.76 538.81 L187.43 545.48 L187.9 562.62 L188.38 549.29 L189.05 555 L189.62 563.57 L190.29 558.81 L190.95 556.9 L191.71 553.1 L192.48 560.71 L193.14 549.29 L193.81 546.43 L194.57 553.1 L195.33 551.19 L196 562.62 L196.67 549.29 L197.43 551.19 L198.19 548.33 L198.86 555 L199.52 545.48 L200.29 548.33 L201.05 543.57 L201.71 545.48 L202.38 542.62 L203.14 546.43 L203.9 551.19 L204.57 543.57 L205.24 540.71 L206 540.71 L206.76 543.57 L207.43 547.38 L208.1 541.67 L208.86 545.48 L209.62 550.24 L210.29 552.14 L210.95 555 L211.71 546.43 L212.48 543.57 L213.14 548.33 L213.81 534.05 L214.38 548.33 L215.05 555 L215.71 545.48 L216.48 549.29 L217.24 543.57 L217.9 540.71 L218.57 543.57 L219.33 546.43 L220.1 542.62 L220.76 545.48 L221.43 547.38 L222.19 542.62 L222.95 551.19 L223.62 537.86 L224.29 546.43 L224.86 555.95 L225.52 548.33 L226.19 539.76 L226.76 547.38 L227.43 551.19 L228.1 543.57 L228.86 546.43 L229.62 549.29 L230.29 540.71 L230.95 543.57 L231.71 538.81 L232.48 534.05 L233.14 550.24 L233.81 539.76 L234.57 541.67 L235.33 547.38 L236 537.86 L236.67 548.33 L237.24 555 L237.9 549.29 L238.57 543.57 L239.33 537.86 L240.1 541.67 L240.76 536.9 L241.43 545.48 L242.19 538.81 L242.95 545.48 L243.62 547.38 L244.29 538.81 L245.05 553.1 L245.81 543.57 L246.48 549.29 L247.14 535.95 L247.9 551.19 L248.67 555 L249.33 543.57 L250 547.38 L250.76 538.81 L251.52 545.48 L252.19 551.19 L252.86 537.86 L253.62 547.38 L254.38 538.81 L255.05 543.57 L255.71 549.29 L256.48 541.67 L257.24 545.48 L257.9 548.33 L258.57 542.62 L259.33 544.52 L260.1 538.81 L260.76 536.9 L261.43 543.57 L262.19 539.76 L262.95 547.38 L263.62 552.14 L264.29 541.67 L265.05 540.71 L266 543.1 L266.76 541.19 L267.43 546.9 L268.1 539.29 L268.86 543.1 L269.62 545.95 L270.29 538.33 L270.95 550.71 L271.71 543.1 L272.48 537.38 L273.14 546.9 L273.81 536.43 L274.57 543.1 L275.33 539.29 L276 545 L276.67 537.38 L277.43 541.19 L278.19 539.29 L278.86 543.1 L279.52 541.19 L280.29 545 L281.05 549.76 L281.71 539.29 L282.38 543.1 L283.14 541.19 L283.9 545 L284.57 539.29 L285.24 536.43 L286 533.57 L286.38 528.81 L286.76 541.19 L287.43 548.81 L288.1 552.62 L288.86 545 L289.62 550.71 L290.29 543.1 L290.95 541.19 L291.71 545 L292.48 546.9 L293.14 550.71 L293.81 543.1 L294.57 545.95 L295.33 539.29 L295.9 530.24 L296.48 541.19 L297.24 545 L297.9 546.9 L298.57 548.81 L299.33 550.71 L300.1 549.76 L300.76 556.43 L301.43 550.71 L302.19 545 L302.95 543.1 L303.62 541.19 L304.29 540.24 L305.05 541.19 L305.81 539.29 L306.48 543.1 L307.14 552.62 L307.9 545 L308.67 545.95 L309.33 541.19 L310 535.48 L310.76 531.67 L311.52 539.29 L312.19 533.57 L312.86 529.76 L313.43 526.43 L314.1 529.76 L314.76 533.57 L315.52 541.19 L316.29 545 L316.95 541.19 L317.62 546.9 L318.38 552.62 L319.14 546.9 L319.81 541.19 L320.48 539.29 L321.24 543.1 L322 545 L322.67 546.9 L323.33 545 L324.1 541.19 L324.86 538.33 L325.52 543.1 L326 542.22 L326.89 536.67 L327.67 544.44 L328.44 533.33 L329.33 540 L330.22 535.56 L331 542.22 L331.78 536.67 L332.67 544.44 L333.56 537.78 L334.33 551.11 L335.11 542.22 L336 540 L336.89 537.78 L337.67 540 L338.44 538.89 L339.33 542.22 L340.22 548.89 L341 544.44 L341.78 542.22 L342.67 546.67 L343.56 544.44 L344.33 557.78 L345.11 546.67 L346 544.44 L346.89 551.11 L347.67 544.44 L348.44 542.22 L349.33 543.33 L350.22 537.78 L351 535.56 L351.78 540 L352.67 544.44 L353.56 540 L354.33 557.78 L355.11 533.33 L355.78 530 L356.56 537.78 L357.33 533.33 L358.22 542.22 L359.11 537.78 L359.89 546.67 L360.67 540 L361.56 544.44 L362.44 548.89 L363.22 540 L364 537.78 L364.89 531.11 L365.78 544.44 L366.56 528.89 L367.33 533.33 L368.22 531.11 L369.11 536.67 L369.89 542.22 L370.67 533.33 L371.33 551.11 L372.11 531.11 L372.67 523.89 L373.56 535.56 L374.33 531.11 L375.11 537.78 L376 533.33 L376.89 526.67 L377.67 528.89 L378.44 533.33 L379.33 531.11 L380.22 535.56 L381 540 L381.78 533.33 L382.67 536.67 L383.33 523.33 L384 537.78 L384.89 535.56 L385.78 538.89 L386.56 542.22 L387.33 537.78 L388.22 533.33 L389.11 528.89 L389.89 538.89 L390.67 533.33 L391.56 535.56 L392.44 531.11 L393.22 540 L394 548.89 L394.89 533.33 L396 536.67 L397.52 549.67 L398.48 564.9 L399.43 574.43 L400.38 566.81 L401.33 557.29 L402.29 561.1 L403.24 553.48 L404.19 549.67 L405.14 546.81 L406.1 549.67 L407.05 545.86 L408 546.81 L408 540.95 L409.43 539.05 L410.86 531.9 L412.29 537.14 L413.71 555.24 L414.67 502.38 L415.62 539.05 L417.05 535.24 L418.48 550.48 L419.9 516.67 L421.33 540.95 L422.76 539.05 L423.71 551.43 L425.14 537.14 L426.57 534.29 L427.52 552.38 L428.48 526.67 L429.9 544.76 L431.33 540.95 L432.76 531.43 L434.19 537.14 L435.62 545.71 L436.57 539.05 L437.52 526.67 L438.48 533.33 L439.43 528.57 L440.86 546.67 L442.29 556.19 L443.24 532.38 L444.67 532.38 L445.62 539.05 L447.05 548.57 L448.95 528.57 L450.38 533.33 L451.33 546.67 L452.76 516.19 L453.71 537.14 L454.67 545.71 L455.62 535.24 L457.05 523.33 L458.48 537.14 L459.9 545.71 L461.33 540 L462.76 537.14 L464.19 534.76 L465.62 542.86 L467.05 532.38 L468 535.24 L469.43 537.14 L470.38 541.9 L471.33 538.1 L472.76 540.95 L474.19 539.05 L475.62 544.76 L477.05 537.14 L478.48 540.95 L479.9 553.33 L481.33 545.71 L482.76 539.05 L484.19 541.9 L485.62 529.52 L487.05 533.33 L488.48 537.14 L489.9 544.76 L490.86 554.29 L492.29 535.24 L493.52 525.24 L494.67 537.14 L496.1 533.33 L497.52 529.52 L498.48 558.1 L499.62 512.38 L500.86 535.24 L502.29 533.33 L503.71 537.14 L505.14 540.95 L506.29 557.14 L507.33 507.14 L508.48 540.95 L509.9 529.52 L510 526.81 L510.95 515.38 L511.9 532.52 L512.86 538.24 L513.81 546.81 L514.76 534.43 L515.71 523 L516.67 504.9 L517.62 526.81 L518.57 532.52 L519.52 528.71 L520.48 530.62 L521.43 526.81 L522.38 530.62 L523.33 528.71 L524.29 532.52 L525.24 524.9 L526.19 523 L527.14 514.43 L528.1 526.81 L529.05 530.62 L530 528.71 L530.95 524.9 L531.9 532.52 L532.86 523 L533.81 536.33 L534.76 526.81 L535.71 521.1 L536.67 515.38 L537.62 523 L538.57 505.86 L539.52 523 L540.48 540.14 L541.43 532.52 L542.38 524.9 L543.33 509.67 L544.29 523 L545.24 532.52 L546.19 528.71 L547.14 526.81 L548.1 523 L549.05 530.62 L550 524.9 L550.95 519.19 L551.9 526.81 L552.86 530.62 L553.81 538.24 L554.76 547.76 L555.71 507.76 L556.67 549.67 L557.62 497.29 L558.57 505.86 L559.52 523 L560.48 526.81 L561.43 524.9 L562.38 507.76 L563.33 574.43 L564.29 496.33 L564.86 467.76 L565.62 505.86 L566.57 542.05 L567.52 515.38 L568.48 530.62 L569.43 523 L570.38 505.86 L571.33 563 L572.1 496.33 L572.86 477.29 L573.81 509.67 L574.76 524.9 L575.71 515.38 L576.67 511.57 L577.62 530.62 L578.57 517.29 L579.52 511.57 L580.48 536.33 L581.43 519.19 L582.38 502.05 L583.33 530.62 L584.29 524.9 L585.24 526.81 L586.19 528.71 L587.14 523 L588.1 505.86 L589.05 526.81 L590 519.19 L590.95 523 L591.9 528.71 L592.86 552.52 L593.81 523 L594.76 519.19 L595.71 523 L596.67 530.62 L597.62 524.9 L598.57 519.19 L599.52 526.81 L600.48 523 L601.43 517.29 L602.38 513.48 L603.33 521.1 L604.29 500.14 L605.24 481.1 L606.19 471.57 L607.14 490.62 L608.1 536.33 L609.05 500.14 L610 483 L610.95 500.14 L611.9 524.9 L612.86 530.62 L613.81 526.81 L614.76 523 L615.71 530.62 L616.67 534.43 L617.62 538.24 L618.57 532.52 L619.52 536.33 L620.48 540.14 L621.43 534.43 L622.38 538.24 L623.33 542.05 L624.29 536.33 L625.24 540.14 L626.19 545.86 L627.14 551.57 L628.1 549.67" fill="none" stroke="#161616" stroke-width="1.0" stroke-linejoin="round" clip-path="url(#c2)"/>
<path d="M48 746.62 L48.95 742.81 L49.9 747.57 L50.86 744.71 L51.81 752.33 L52.76 748.52 L53.71 746.62 L54.67 750.43 L55.62 745.67 L56.57 748.52 L57.52 752.33 L58.48 746.62 L59.43 748.52 L60.38 745.67 L61.33 752.33 L62.29 749.48 L63.24 746.62 L64.19 742.81 L65.14 748.52 L66.1 754.24 L67.05 792.33 L67.81 750.43 L68.57 758.05 L69.33 769.48 L70.1 740.9 L70.86 706.62 L71.81 725.67 L72.76 746.62 L73.71 744.71 L74.67 750.43 L75.62 756.14 L76.57 739 L77.52 723.76 L78.48 716.14 L79.43 721.86 L80.38 739 L81.33 754.24 L82.29 752.33 L83.24 748.52 L84.19 754.24 L85.14 751.38 L86.1 758.05 L87.05 754.24 L88 762.81 L88.95 756.14 L89.9 748.52 L90.86 744.71 L91.81 750.43 L92.76 758.05 L93.71 742.81 L94.67 754.24 L95.62 759.95 L96.57 748.52 L97.52 744.71 L98.48 750.43 L99.43 742.81 L100.38 740.9 L101.33 739 L102.29 737.1 L103.24 742.81 L104.19 748.52 L105.14 752.33 L106.1 748.52 L107.05 752.33 L108 746.62 L108.95 754.24 L109.9 748.52 L110.86 750.43 L111.81 746.62 L112.76 754.24 L113.71 748.52 L114.67 752.33 L115.62 748.52 L116.57 746.62 L117.52 742.81 L118.48 750.43 L119.43 754.24 L120.38 756.14 L121.33 759.95 L122.29 758.05 L123.24 761.86 L124.19 759.95 L125.14 762.81 L126.1 759.95 L127.05 758.05 L128 754.24 L128.95 748.52 L129.9 742.81 L130.86 744.71 L131.81 750.43 L132.76 744.71 L133.71 748.52 L134.67 739 L135.62 742.81 L136.57 748.52 L137.52 744.71 L138.48 750.43 L139.43 754.24 L140.38 748.52 L141.33 752.33 L142.29 756.14 L143.24 750.43 L144.19 752.33 L145.14 746.62 L146.1 748.52 L147.05 750.43 L148 744.71 L148.95 748.52 L149.9 742.81 L150.86 746.62 L151.81 740.9 L152.76 746.62 L153.71 742.81 L154.67 748.52 L155.62 740.9 L156.57 742.81 L157.52 739 L158.48 734.24 L159.43 746.62 L160.38 754.24 L161.33 750.43 L162.29 758.05 L163.24 765.67 L164.19 771.38 L165.14 765.67 L166.1 758.05 L167.05 754.24 L168 761.86 L168.95 750.43 L169.9 744.71 L170.86 746.62 L171.81 740.9 L172.76 735.19 L173.71 733.29 L174.67 739 L175.62 746.62 L176.57 761.86 L177.52 769.48 L178.48 773.29 L179.43 775.19 L180.38 765.67 L181.33 756.14 L182.29 754.24 L183.24 746.62 L184.19 740.9 L185.14 739 L186.1 737.1 L187.05 735.19 L188 731.38 L188.95 739 L189.9 733.29 L190.86 740.9 L191.81 731.38 L192.76 737.1 L193.71 742.81 L194.67 731.38 L195.62 727.57 L196.57 735.19 L197.52 729.48 L198.48 727.57 L199.43 735.19 L200.38 731.38 L201.33 737.1 L202.29 739 L203.24 740.9 L204.19 739.95 L205.14 742.81 L206.1 737.1 L207.05 742.81 L208 731.38 L208.95 742.81 L209.9 737.1 L210.86 740.9 L211.81 735.19 L212.76 742.81 L213.71 737.1 L214.67 740.9 L215.62 739 L216.57 742.81 L217.52 743.76 L218.48 747.57 L219.43 742.81 L220.38 740.9 L221.33 739 L222.29 742.81 L223.24 738.05 L224.19 739 L225.14 740.9 L226.1 739 L227.05 738.05 L228 737.1 L228.95 739 L229.9 737.1 L230.86 739 L231.81 742.81 L232.76 746.62 L233.71 750.43 L234.67 754.24 L235.62 748.52 L236.57 744.71 L237.52 740.9 L238.48 737.1 L239.43 735.19 L240.38 733.29 L241.33 736.14 L242.29 735.19 L243.24 736.14 L244.19 735.19 L245.14 736.14 L246.1 737.1 L247.05 735.19 L248 733.29 L248.95 729.48 L249.9 727.57 L250.86 742.81 L251.81 744.71 L252.76 740.9 L253.71 739 L254.67 737.1 L255.62 735.19 L256.57 739 L257.52 735.19 L258.48 733.29 L259.43 731.38 L260.38 727.57 L261.33 731.38 L262.29 735.19 L263.24 739 L264.19 742.81 L265.14 735.19 L266.1 742.81 L267.05 731.38 L268 729.48 L268.95 735.19 L269.9 739 L270.86 731.38 L271.81 737.1 L272.76 742.81 L273.71 735.19 L274.67 739 L275.62 742.81 L276.57 744.71 L277.52 739 L278.48 731.38 L279.43 733.29 L280.38 735.19 L281.33 731.38 L282.29 737.1 L283.24 739 L284.19 733.29 L285.14 739 L286.1 742.81 L287.05 731.38 L288 735.19 L288.95 737.1 L289.9 735.19 L290.86 740.9 L291.81 739 L292.76 737.1 L293.71 735.19 L294.67 739 L295.62 733.29 L296.57 732.33 L297.52 735.19 L298.48 739 L299.43 737.1 L300.38 740.9 L301.33 735.19 L302.29 733.29 L303.24 731.38 L304.19 735.19 L305.14 740.9 L306.1 742.81 L307.05 739 L308 737.1 L308.95 739 L309.9 735.19 L310.86 737.1 L311.81 740.9 L312.76 735.19 L313.71 737.1 L314.67 742.81 L315.62 746.62 L316.57 750.43 L317.52 753.29 L318.48 750.43 L319.43 746.62 L320.38 742.81 L321.33 739 L322.29 736.14 L323.24 735.19 L324.19 733.29 L325.14 731.38 L326.1 735.19 L327.05 733.29 L328 731.38 L328.95 735.19 L329.9 733.29 L330.86 737.1 L331.81 740.9 L332.76 746.62 L333.71 744.71 L334.67 737.1 L335.62 735.19 L336.57 731.38 L337.52 732.33 L338.48 729.48 L339.43 727.57 L340.38 725.67 L341.33 727.57 L342.29 725.67 L343.24 724.71 L344.19 726.62 L345.14 731.38 L346.1 733.29 L347.05 735.19 L348 736.14 L348.95 739 L349.9 737.1 L350.86 740.9 L351.81 735.19 L352.76 733.29 L353.71 731.38 L354.67 733.29 L355.62 731.38 L356.57 735.19 L357.52 733.29 L358.48 734.24 L359.43 736.14 L360.38 735.19 L361.33 734.24 L362.29 733.29 L363.24 731.38 L364.19 729.48 L365.14 727.57 L366.1 725.67 L367.05 727.57 L368 729.48 L368.95 725.67 L369.9 727.57 L370.86 729.48 L371.81 726.62 L372.76 727.57 L373.71 729.48 L374.67 731.38 L375.62 729.48 L376.57 727.57 L377.52 728.52 L378.48 725.67 L379.43 724.71 L380.38 727.57 L381.33 729.48 L382.29 731.38 L383.24 732.33 L384.19 733.29 L385.14 727.57 L386.1 721.86 L387.05 712.33 L388 693.29 L388.57 687.57 L389.14 697.1 L389.9 714.24 L390.86 723.76 L391.81 729.48 L392.76 731.38 L393.71 729.48 L394.67 725.67 L395.62 727.57 L396.57 729.48 L397.52 723.76 L398.48 721.86 L399.43 725.67 L400.38 719.95 L401.33 718.05 L402.29 721.86 L403.24 718.05 L404.19 721.86 L405.14 719.95 L406.1 723.76 L407.05 719.95 L408 719.95 L408.95 723.76 L409.9 729.48 L410.86 727.57 L411.81 731.38 L412.76 729.48 L413.71 735.19 L414.67 729.48 L415.62 727.57 L416.57 731.38 L417.52 725.67 L418.48 727.57 L419.43 723.76 L420.38 727.57 L421.33 731.38 L422.29 719.95 L423.24 716.14 L424.19 723.76 L425.14 729.48 L426.1 735.19 L427.05 737.1 L428 731.38 L428.95 733.29 L429.9 731.38 L430.86 733.29 L431.81 732.33 L432.76 731.38 L433.71 731.38 L434.67 729.48 L435.62 726.62 L436.57 727.57 L437.52 725.67 L438.48 729.48 L439.43 731.38 L440.38 723.76 L441.33 725.67 L442.29 721.86 L443.24 723.76 L444.19 727.57 L445.14 723.76 L446.1 719.95 L447.05 716.14 L448 713.29 L448.95 718.05 L449.9 718.05 L450.86 719.95 L451.81 720.9 L452.76 721.86 L453.71 719.95 L454.67 721.86 L455.62 722.81 L456.57 723.76 L457.52 722.81 L458.48 724.71 L459.43 723.76 L460.38 725.67 L461.33 724.71 L462.29 725.67 L463.24 723.76 L464.19 724.71 L465.14 721.86 L466.1 720.9 L467.05 721.86 L468 721.86 L468.95 722.81 L469.9 724.71 L470.86 725.67 L471.81 721.86 L472.76 720.9 L473.71 723.76 L474.67 721.86 L475.62 719.95 L476.57 723.76 L477.52 718.05 L478.48 716.14 L479.43 719.95 L480.38 723.76 L481.33 719.95 L482.29 725.67 L483.24 721.86 L484.19 719.95 L485.14 726.62 L486.1 723.76 L487.05 721.86 L488 718.05 L488.95 719.95 L489.9 716.14 L490.86 716.14 L491.81 718.05 L492.76 714.24 L493.71 712.33 L494.67 715.19 L495.62 712.33 L496.57 718.05 L497.52 719.95 L498.48 714.24 L499.43 711.38 L500.38 714.24 L501.33 716.14 L502.29 712.33 L503.24 713.29 L504.19 714.24 L505.14 716.14 L506.1 718.05 L507.05 719.95 L508 721.86 L508.95 719.95 L509.9 723.76 L510.86 721.86 L511.81 724.71 L512.76 722.81 L513.71 723.76 L514.67 724.71 L515.62 721.86 L516.57 723.76 L517.52 725.67 L518.48 723.76 L519.43 721.86 L520.38 716.14 L521.33 712.33 L522.29 711.38 L523.24 710.43 L524.19 714.24 L525.14 716.14 L526.1 716.14 L527.05 717.1 L528.1 719.95 L529.05 718.05 L530 721.86 L530.95 712.33 L531.9 719.95 L532.86 716.14 L533.81 723.76 L534.76 718.05 L535.71 716.14 L536.67 719.95 L537.62 725.67 L538.57 729.48 L539.52 734.24 L540.48 727.57 L541.43 723.76 L542.38 729.48 L543.33 721.86 L544.29 725.67 L545.24 721.86 L546.19 720.9 L547.14 723.76 L548.1 731.38 L549.05 735.19 L550 736.14 L550.95 733.29 L551.9 729.48 L552.86 723.76 L553.81 725.67 L554.76 721.86 L555.71 727.57 L556.29 708.52 L557.05 707.57 L557.62 727.57 L558.57 718.05 L559.52 729.48 L560.48 719.95 L561.43 714.24 L562.38 723.76 L563.33 719.95 L564.29 712.33 L565.24 710.43 L566.19 718.05 L567.14 721.86 L568.1 712.33 L569.05 714.24 L570 716.14 L570.95 712.33 L571.9 716.14 L572.86 719.95 L573.81 721.86 L574.76 723.76 L575.71 719.95 L576.67 714.24 L577.62 710.43 L578.57 712.33 L579.52 716.14 L580.48 718.05 L581.43 719.95 L582.38 722.81 L583.33 721.86 L584.29 716.14 L585.24 712.33 L586.19 708.52 L587.14 706.62 L588.1 707.57 L589.05 704.71 L590 709.48 L590.95 705.67 L591.9 704.71 L592.86 710.43 L593.81 708.52 L594.76 716.14 L595.71 714.24 L596.67 710.43 L597.62 714.24 L598.57 710.43 L599.52 712.33 L600.48 714.24 L601.43 712.33 L602.38 713.29 L603.33 710.43 L604.29 708.52 L605.24 706.62 L606.19 712.33 L607.14 723.76 L608.1 716.14 L609.05 712.33 L610 710.43 L610.95 711.38 L611.9 712.33 L612.86 710.43 L613.81 714.24 L614.76 716.14 L615.71 721.86 L616.67 727.57 L617.62 719.95 L618.57 716.14 L619.52 718.05 L620.48 716.14 L621.43 714.24 L622.38 718.05 L623.33 716.14 L624.29 721.86 L625.24 727.57 L626.19 739 L627.14 750.43 L628.1 759.95" fill="none" stroke="#161616" stroke-width="1.0" stroke-linejoin="round" clip-path="url(#c3)"/>
<path d="M95.2 21.6V27.3" stroke="#ff2a2a" stroke-width="1.5"/>
<text class="s" x="89.2" y="20.3" font-size="7.6" fill="#2a2aff" font-style="italic" font-weight="bold" textLength="15" lengthAdjust="spacingAndGlyphs"><tspan font-weight="normal" font-style="normal">[</tspan>OII<tspan font-weight="normal" font-style="normal">]</tspan></text>
<path d="M177.5 135V140" stroke="#ff2a2a" stroke-width="1.5"/>
<text class="s" x="169" y="145.8" font-size="7.6" fill="#2a2aff" font-style="italic" font-weight="bold" textLength="19.3" lengthAdjust="spacingAndGlyphs">Ca(H)</text>
<path d="M192.8 139.7V147.3" stroke="#ff2a2a" stroke-width="1.5"/>
<text class="s" x="186" y="151.5" font-size="7.6" fill="#2a2aff" font-style="italic" font-weight="bold" textLength="19.3" lengthAdjust="spacingAndGlyphs">Ca(K)</text>
<path d="M341 99.7V104.8" stroke="#ff2a2a" stroke-width="1.5"/>
<text class="s" x="338" y="95.6" font-size="7.6" fill="#2a2aff" font-style="italic" font-weight="bold">H<tspan font-size="5.8" dy="1.3">γ</tspan></text>
<path d="M550.6 54.9V59.7" stroke="#ff2a2a" stroke-width="1.5"/>
<text class="s" x="546.2" y="51" font-size="7.6" fill="#2a2aff" font-style="italic" font-weight="bold">H<tspan font-size="5.8" dy="1.3">β</tspan></text>
<path d="M589.4 90.1V96.8" stroke="#ff2a2a" stroke-width="1.5"/>
<text class="s" x="579.5" y="85.6" font-size="7.6" fill="#2a2aff" font-style="italic" font-weight="bold" textLength="18" lengthAdjust="spacingAndGlyphs"><tspan font-weight="normal" font-style="normal">[</tspan>OIII<tspan font-weight="normal" font-style="normal">]</tspan></text>
<path d="M609 74.9V82.5" stroke="#ff2a2a" stroke-width="1.5"/>
<text class="s" x="591.9" y="73.3" font-size="7.6" fill="#2a2aff" font-style="italic" font-weight="bold" textLength="18" lengthAdjust="spacingAndGlyphs"><tspan font-weight="normal" font-style="normal">[</tspan>OIII<tspan font-weight="normal" font-style="normal">]</tspan></text>
<path d="M117.5 241.3V247" stroke="#ff2a2a" stroke-width="1.5"/>
<text class="s" x="108.6" y="240.6" font-size="7.6" fill="#2a2aff" font-style="italic" font-weight="bold" textLength="15" lengthAdjust="spacingAndGlyphs"><tspan font-weight="normal" font-style="normal">[</tspan>OII<tspan font-weight="normal" font-style="normal">]</tspan></text>
<path d="M546.2 271.8V277.9" stroke="#ff2a2a" stroke-width="1.5"/>
<text class="s" x="539.5" y="268.8" font-size="7.6" fill="#2a2aff" font-style="italic" font-weight="bold">H<tspan font-size="5.8" dy="1.3">β</tspan></text>
<path d="M582.8 280.4V286.1" stroke="#ff2a2a" stroke-width="1.5"/>
<text class="s" x="573.8" y="278.3" font-size="7.6" fill="#2a2aff" font-style="italic" font-weight="bold" textLength="18" lengthAdjust="spacingAndGlyphs"><tspan font-weight="normal" font-style="normal">[</tspan>OIII<tspan font-weight="normal" font-style="normal">]</tspan></text>
<path d="M600.9 249.9V255.6" stroke="#ff2a2a" stroke-width="1.5"/>
<text class="s" x="587.7" y="247.3" font-size="7.6" fill="#2a2aff" font-style="italic" font-weight="bold" textLength="18" lengthAdjust="spacingAndGlyphs"><tspan font-weight="normal" font-style="normal">[</tspan>OIII<tspan font-weight="normal" font-style="normal">]</tspan></text>
<path d="M73.3 507.8V513.5" stroke="#ff2a2a" stroke-width="1.5"/>
<text class="s" x="68" y="507.1" font-size="7.6" fill="#2a2aff" font-style="italic" font-weight="bold" textLength="15" lengthAdjust="spacingAndGlyphs"><tspan font-weight="normal" font-style="normal">[</tspan>OII<tspan font-weight="normal" font-style="normal">]</tspan></text>
<path d="M112.4 582.9V588.6" stroke="#ff2a2a" stroke-width="1.5"/>
<text class="s" x="90.8" y="592" font-size="7.6" fill="#2a2aff" font-style="italic" font-weight="bold" textLength="19.3" lengthAdjust="spacingAndGlyphs">Ca(H)</text>
<path d="M118.5 581.8V587.3" stroke="#ff2a2a" stroke-width="1.5"/>
<text class="s" x="118.7" y="591.4" font-size="7.6" fill="#2a2aff" font-style="italic" font-weight="bold" textLength="19.3" lengthAdjust="spacingAndGlyphs">Ca(K)</text>
<path d="M286.3 522.2V527.9" stroke="#ff2a2a" stroke-width="1.5"/>
<text class="s" x="284.1" y="521" font-size="7.6" fill="#2a2aff" font-style="italic" font-weight="bold">H<tspan font-size="5.8" dy="1.3">β</tspan></text>
<path d="M314 518.4V524.1" stroke="#ff2a2a" stroke-width="1.5"/>
<text class="s" x="308.9" y="517.6" font-size="7.6" fill="#2a2aff" font-style="italic" font-weight="bold" textLength="18" lengthAdjust="spacingAndGlyphs"><tspan font-weight="normal" font-style="normal">[</tspan>OIII<tspan font-weight="normal" font-style="normal">]</tspan></text>
<path d="M606.2 463V468.7" stroke="#ff2a2a" stroke-width="1.5"/>
<text class="s" x="602.8" y="461" font-size="7.6" fill="#2a2aff" font-style="italic" font-weight="bold">H<tspan font-size="5.8" dy="1.3">α</tspan></text>
<path d="M610 477.3V483" stroke="#ff2a2a" stroke-width="1.5"/>
<text class="s" x="606.2" y="476.2" font-size="7.6" fill="#2a2aff" font-style="italic" font-weight="bold" textLength="10.5" lengthAdjust="spacingAndGlyphs">SII</text>
<path d="M78.5 708.1V713.3" stroke="#ff2a2a" stroke-width="1.5"/>
<text class="s" x="70.5" y="707.8" font-size="7.6" fill="#2a2aff" font-style="italic" font-weight="bold" textLength="15" lengthAdjust="spacingAndGlyphs"><tspan font-weight="normal" font-style="normal">[</tspan>OII<tspan font-weight="normal" font-style="normal">]</tspan></text>
<path d="M164.5 774.7V779.4" stroke="#ff2a2a" stroke-width="1.5"/>
<text class="s" x="158.7" y="782" font-size="7.6" fill="#2a2aff" font-style="italic" font-weight="bold" textLength="19.3" lengthAdjust="spacingAndGlyphs">Ca(H)</text>
<path d="M179 778.7V783.4" stroke="#ff2a2a" stroke-width="1.5"/>
<text class="s" x="170.6" y="786.6" font-size="7.6" fill="#2a2aff" font-style="italic" font-weight="bold" textLength="19.3" lengthAdjust="spacingAndGlyphs">Ca(K)</text>
<path d="M234.7 756.1V760.9" stroke="#ff2a2a" stroke-width="1.5"/>
<text class="s" x="226.7" y="764" font-size="7.6" fill="#2a2aff" font-style="italic" font-weight="bold">H<tspan font-size="5.8" dy="1.3">δ</tspan></text>
<path d="M317.9 755.2V759.6" stroke="#ff2a2a" stroke-width="1.5"/>
<text class="s" x="309.9" y="763" font-size="7.6" fill="#2a2aff" font-style="italic" font-weight="bold" textLength="19.6" lengthAdjust="spacingAndGlyphs">Gband</text>
<path d="M333.3 751.4V756.1" stroke="#ff2a2a" stroke-width="1.5"/>
<text class="s" x="325.1" y="758.5" font-size="7.6" fill="#2a2aff" font-style="italic" font-weight="bold">H<tspan font-size="5.8" dy="1.3">γ</tspan></text>
<path d="M550 740V744.3" stroke="#ff2a2a" stroke-width="1.5"/>
<text class="s" x="542" y="747" font-size="7.6" fill="#2a2aff" font-style="italic" font-weight="bold">H<tspan font-size="5.8" dy="1.3">β</tspan></text>
<path d="M116.9 55.7L124.3 65.3M124.3 55.7L116.9 65.3M351.3 76.8L358.7 86.4M358.7 76.8L351.3 86.4M373.3 98.3L380.7 107.9M380.7 98.3L373.3 107.9M435.7 130.1L443.1 139.7M443.1 130.1L435.7 139.7M465.1 71.6L472.5 81.2M472.5 71.6L465.1 81.2M489.4 87.4L496.8 97M496.8 87.4L489.4 97M506.6 71.6L514 81.2M514 71.6L506.6 81.2M524.8 87.5L532.2 97.1M532.2 87.5L524.8 97.1M611.4 44.8L618.8 54.4M618.8 44.8L611.4 54.4" stroke="#a00000" stroke-width="1.75" fill="none"/>
<path d="M408.05 347.4L413.75 355.4M413.75 347.4L408.05 355.4M473.35 306.3L479.05 314.3M479.05 306.3L473.35 314.3M568.55 293.9L574.25 301.9M574.25 293.9L568.55 301.9M123.25 464.7L128.95 472.7M128.95 464.7L123.25 472.7M397.55 563.8L403.25 571.8M403.25 563.8L397.55 571.8M562.05 464.1L567.75 472.1M567.75 464.1L562.05 472.1M570.15 474.4L575.85 482.4M575.85 474.4L570.15 482.4M65.75 739.4L71.45 747.4M71.45 739.4L65.75 747.4M386.45 687L392.15 695M392.15 687L386.45 695" stroke="#a00000" stroke-width="1.4" fill="none"/>
<rect x="227.5" y="19.1" width="220.6" height="21.2" fill="#e6e6e6" stroke="#f2f2f2" stroke-width="1"/>
<path d="M236.1 28.8h17.8" stroke="#333333" stroke-width="1.2"/>
<text x="267.6" y="33.1" font-size="12" fill="#222" textLength="64.8" lengthAdjust="spacingAndGlyphs">XID 150 at</text><text class="s" x="337.2" y="33.2" font-size="12.5" fill="#222" stroke="#222" stroke-width="0.3" font-style="italic" textLength="5.2" lengthAdjust="spacingAndGlyphs">z</text><text class="s" x="345.2" y="33.2" font-size="12.5" fill="#222" stroke="#222" stroke-width="0.3" textLength="8.4" lengthAdjust="spacingAndGlyphs">=</text><text class="s" x="355.9" y="33.2" font-size="12.5" fill="#222" stroke="#222" stroke-width="0.3" textLength="9" lengthAdjust="spacingAndGlyphs">0.</text><text class="s" x="367.8" y="33.2" font-size="12.5" fill="#222" stroke="#222" stroke-width="0.3" textLength="24" lengthAdjust="spacingAndGlyphs">6621</text><text class="s" x="394.8" y="33.2" font-size="12.5" fill="#222" stroke="#222" stroke-width="0.3" textLength="9.9" lengthAdjust="spacingAndGlyphs">±</text><text class="s" x="406.2" y="33.2" font-size="12.5" fill="#222" stroke="#222" stroke-width="0.3" textLength="9" lengthAdjust="spacingAndGlyphs">0.</text><text class="s" x="416.8" y="33.2" font-size="12.5" fill="#222" stroke="#222" stroke-width="0.3" textLength="24.6" lengthAdjust="spacingAndGlyphs">0001</text>
<rect x="262.7" y="234" width="150.3" height="21.6" fill="#e6e6e6" stroke="#f2f2f2" stroke-width="1"/>
<path d="M271.3 244h17.8" stroke="#333333" stroke-width="1.2"/>
<text class="s" x="302.2" y="249.2" font-size="12.5" fill="#222" stroke="#222" stroke-width="0.3" font-style="italic" textLength="5.2" lengthAdjust="spacingAndGlyphs">z</text><text class="s" x="310.2" y="249.2" font-size="12.5" fill="#222" stroke="#222" stroke-width="0.3" textLength="8.4" lengthAdjust="spacingAndGlyphs">=</text><text class="s" x="320.9" y="249.2" font-size="12.5" fill="#222" stroke="#222" stroke-width="0.3" textLength="9" lengthAdjust="spacingAndGlyphs">0.</text><text class="s" x="332.8" y="249.2" font-size="12.5" fill="#222" stroke="#222" stroke-width="0.3" textLength="24" lengthAdjust="spacingAndGlyphs">6934</text><text class="s" x="359.8" y="249.2" font-size="12.5" fill="#222" stroke="#222" stroke-width="0.3" textLength="9.9" lengthAdjust="spacingAndGlyphs">±</text><text class="s" x="371.2" y="249.2" font-size="12.5" fill="#222" stroke="#222" stroke-width="0.3" textLength="9" lengthAdjust="spacingAndGlyphs">0.</text><text class="s" x="381.8" y="249.2" font-size="12.5" fill="#222" stroke="#222" stroke-width="0.3" textLength="24.6" lengthAdjust="spacingAndGlyphs">0001</text>
<rect x="262.9" y="449.3" width="150.3" height="21.4" fill="#e6e6e6" stroke="#f2f2f2" stroke-width="1"/>
<path d="M271.5 458.7h17.8" stroke="#333333" stroke-width="1.2"/>
<text class="s" x="302.4" y="463.9" font-size="12.5" fill="#222" stroke="#222" stroke-width="0.3" font-style="italic" textLength="5.2" lengthAdjust="spacingAndGlyphs">z</text><text class="s" x="310.4" y="463.9" font-size="12.5" fill="#222" stroke="#222" stroke-width="0.3" textLength="8.4" lengthAdjust="spacingAndGlyphs">=</text><text class="s" x="321.1" y="463.9" font-size="12.5" fill="#222" stroke="#222" stroke-width="0.3" textLength="9" lengthAdjust="spacingAndGlyphs">0.</text><text class="s" x="333" y="463.9" font-size="12.5" fill="#222" stroke="#222" stroke-width="0.3" textLength="24" lengthAdjust="spacingAndGlyphs">3921</text><text class="s" x="360" y="463.9" font-size="12.5" fill="#222" stroke="#222" stroke-width="0.3" textLength="9.9" lengthAdjust="spacingAndGlyphs">±</text><text class="s" x="371.4" y="463.9" font-size="12.5" fill="#222" stroke="#222" stroke-width="0.3" textLength="9" lengthAdjust="spacingAndGlyphs">0.</text><text class="s" x="382" y="463.9" font-size="12.5" fill="#222" stroke="#222" stroke-width="0.3" textLength="24.6" lengthAdjust="spacingAndGlyphs">0002</text>
<rect x="262.9" y="664.6" width="150.3" height="21.6" fill="#e6e6e6" stroke="#f2f2f2" stroke-width="1"/>
<path d="M271.5 673.9h17.8" stroke="#333333" stroke-width="1.2"/>
<text class="s" x="302.4" y="679.1" font-size="12.5" fill="#222" stroke="#222" stroke-width="0.3" font-style="italic" textLength="5.2" lengthAdjust="spacingAndGlyphs">z</text><text class="s" x="310.4" y="679.1" font-size="12.5" fill="#222" stroke="#222" stroke-width="0.3" textLength="8.4" lengthAdjust="spacingAndGlyphs">=</text><text class="s" x="321.1" y="679.1" font-size="12.5" fill="#222" stroke="#222" stroke-width="0.3" textLength="9" lengthAdjust="spacingAndGlyphs">0.</text><text class="s" x="333" y="679.1" font-size="12.5" fill="#222" stroke="#222" stroke-width="0.3" textLength="24" lengthAdjust="spacingAndGlyphs">5055</text><text class="s" x="360" y="679.1" font-size="12.5" fill="#222" stroke="#222" stroke-width="0.3" textLength="9.9" lengthAdjust="spacingAndGlyphs">±</text><text class="s" x="371.4" y="679.1" font-size="12.5" fill="#222" stroke="#222" stroke-width="0.3" textLength="9" lengthAdjust="spacingAndGlyphs">0.</text><text class="s" x="382" y="679.1" font-size="12.5" fill="#222" stroke="#222" stroke-width="0.3" textLength="24.6" lengthAdjust="spacingAndGlyphs">0009</text>
</svg></body></html>
